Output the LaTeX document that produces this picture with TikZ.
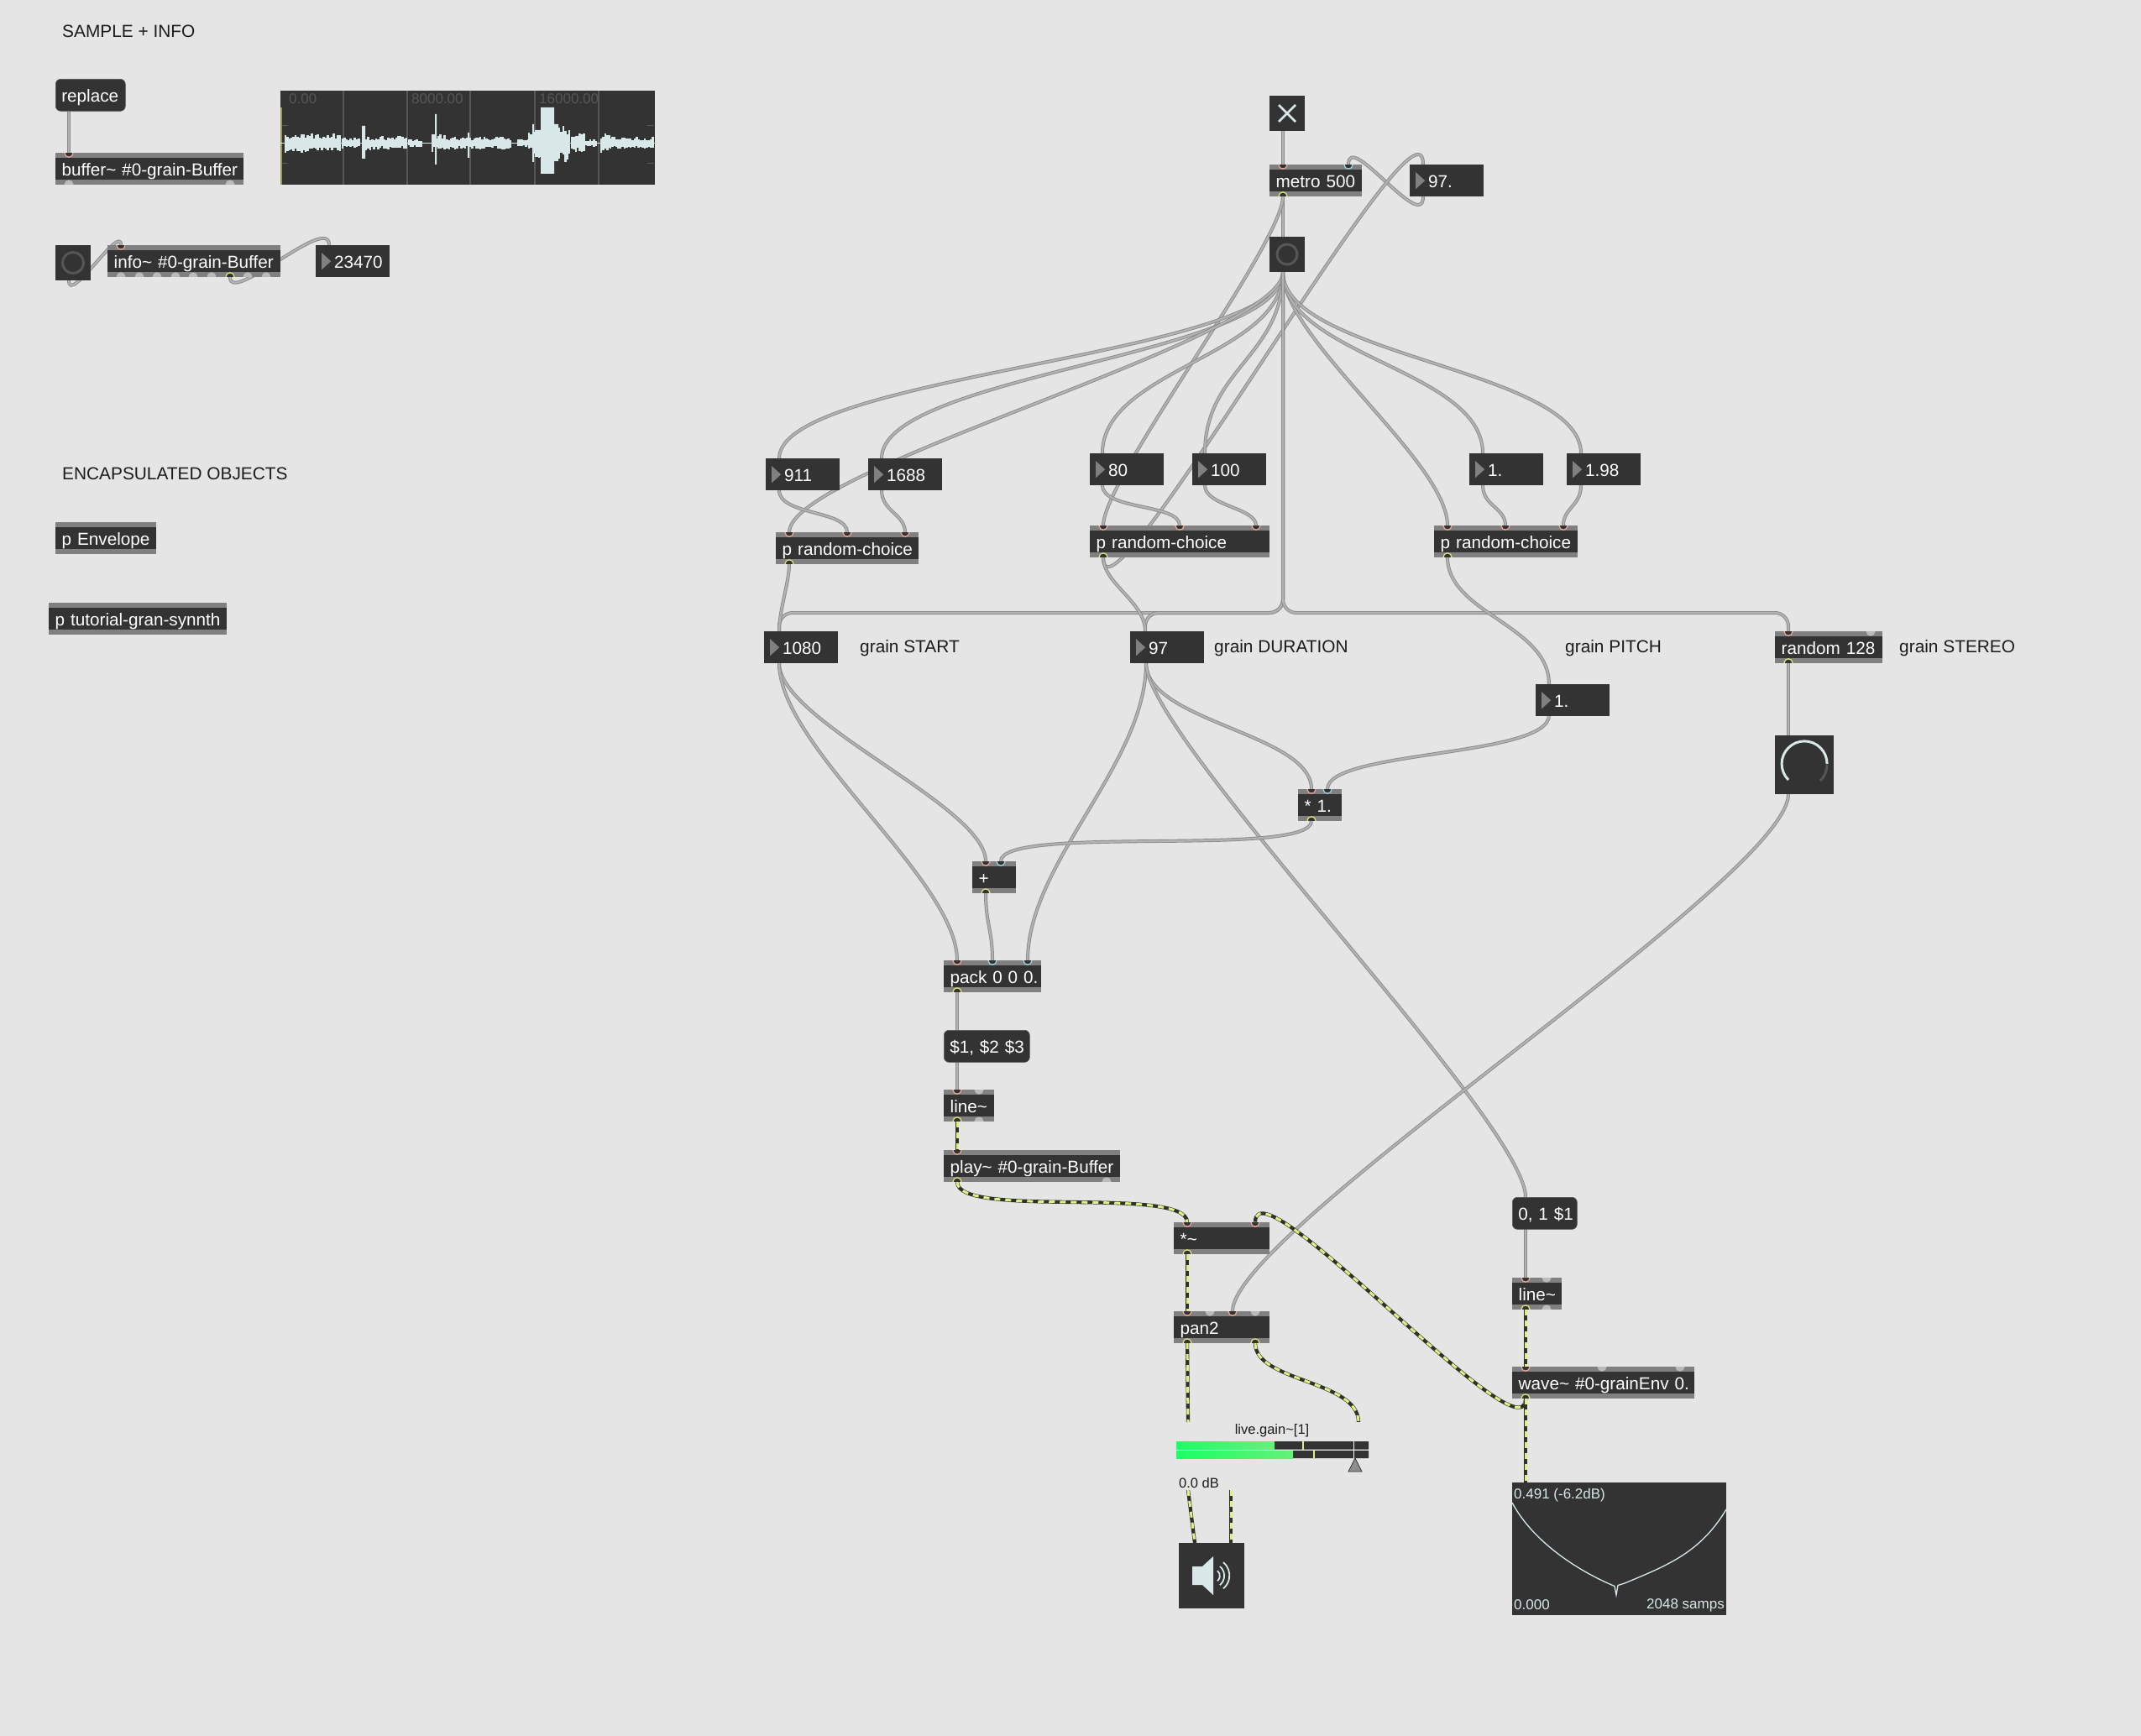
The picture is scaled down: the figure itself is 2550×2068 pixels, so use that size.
\documentclass[tikz,border=0pt]{standalone}
\usepackage{fontspec}
\setmainfont{Liberation Sans}
\pgfdeclarelayer{cords}
\pgfsetlayers{cords,main}
\definecolor{patchBg}{HTML}{E5E5E5}
\definecolor{objDark}{HTML}{333333}
\definecolor{barGrey}{HTML}{808080}
\definecolor{cordEdge}{HTML}{8A8A8A}
\definecolor{cordCore}{HTML}{B2B2B2}
\definecolor{sigDark}{HTML}{2E3326}
\definecolor{sigLime}{HTML}{DCF088}
\definecolor{inPink}{HTML}{F0A898}
\definecolor{inBlue}{HTML}{A0D8E8}
\definecolor{outYellow}{HTML}{E4E880}
\definecolor{idleGrey}{HTML}{BBBBBB}
\definecolor{iceWhite}{HTML}{D8E8E8}
\definecolor{dimText}{HTML}{565656}
\definecolor{inkText}{HTML}{1C1C1C}
\definecolor{markOlive}{HTML}{9A9A55}
\definecolor{meterLow}{HTML}{19FF66}
\definecolor{meterHigh}{HTML}{66F07A}
\newcommand{\objfont}{\fontsize{20.7}{24}\selectfont}
\newcommand{\smallfont}{\fontsize{17}{20}\selectfont}
\newcommand{\tinyfont}{\fontsize{16.5}{20}\selectfont}
\tikzset{
  obj/.style={anchor=north west,fill=objDark,text=white,font=\objfont,inner sep=0pt,
    text width=#1pt,align=left,minimum height=38pt,text height=18pt,text depth=2pt,
    execute at begin node={\hskip7.5pt},
    path picture={
      \fill[barGrey] (path picture bounding box.north west) rectangle ([yshift=-6pt]path picture bounding box.north east);
      \fill[barGrey] (path picture bounding box.south west) rectangle ([yshift=6pt]path picture bounding box.south east);
    }},
  num/.style={anchor=north west,fill=objDark,text=white,font=\objfont,inner sep=0pt,
    text width=88pt,align=left,minimum height=38pt,text height=18pt,text depth=2pt,
    execute at begin node={\hskip22pt},
    path picture={
      \fill[barGrey] ([xshift=7pt,yshift=-9pt]path picture bounding box.north west)
        -- ([xshift=18pt]path picture bounding box.west)
        -- ([xshift=7pt,yshift=9pt]path picture bounding box.south west) -- cycle;
    }},
  msg/.style={anchor=north west,fill=objDark,draw=dimText,line width=.6pt,rounded corners=6pt,
    text=white,font=\objfont,inner sep=0pt,text width=#1pt,align=left,minimum height=38pt,
    text height=18pt,text depth=2pt,execute at begin node={\hskip7pt}},
  uibox/.style 2 args={anchor=north west,fill=objDark,inner sep=0pt,minimum width=#1pt,minimum height=#2pt},
  comment/.style={anchor=west,text=inkText,font=\fontsize{20.85}{24}\selectfont,inner sep=0pt},
  inlet/.style={rectangle,inner sep=0pt,minimum width=12pt,minimum height=7pt,anchor=north,
    path picture={\draw[draw=#1,fill=objDark,line width=1.2pt] (path picture bounding box.north) circle (5pt);}},
  inlet/.default=inPink,
  outlet/.style={rectangle,inner sep=0pt,minimum width=12pt,minimum height=7pt,anchor=south,
    path picture={\draw[draw=outYellow,fill=objDark,line width=1.2pt] (path picture bounding box.south) circle (5pt);}},
  idlein/.style={rectangle,inner sep=0pt,minimum width=12pt,minimum height=6pt,anchor=north,
    path picture={\fill[idleGrey] (path picture bounding box.north) circle (5.5pt);}},
  idleout/.style={rectangle,inner sep=0pt,minimum width=12pt,minimum height=6pt,anchor=south,
    path picture={\fill[idleGrey] (path picture bounding box.south) circle (5.5pt);}},
  cord/.style={draw=cordEdge,line width=.9pt,double=cordCore,double distance=2.2pt},
  sigcord/.style={draw=sigDark,line width=4.2pt,postaction={draw=sigLime,line width=3pt,dash pattern=on 7pt off 6pt}},
}
\begin{document}
\begin{tikzpicture}[x=1pt,y=-1pt]
  \useasboundingbox (0,0) rectangle (2550,2068);

  % sample + info
  \node[comment] (titleSample) at (74,37) {SAMPLE + INFO};
  \node[msg=83] (replaceMsg) at (66,94) {replace};
  \node[obj=224] (bufferObj) at (66,182) {buffer\textasciitilde{} \#0-grain-Buffer};
  \node[inlet] (bufferIn) at (82,182) {};
  \node[idleout] (bufferIdleA) at (82,220) {};
  \node[idleout] (bufferIdleB) at (274,220) {};
  \coordinate (replaceOut) at (82,133);

  \node[uibox={446}{112}] (waveView) at (334,108) {};
  \fill[markOlive] (334,128) rectangle (336,220);
  \draw[dimText,line width=1.5pt] (409,108) -- (409,220) (485,108) -- (485,220) (560,108) -- (560,220)
    (637,108) -- (637,220) (713,108) -- (713,220);
  \draw[dimText,line width=1pt] (336,149.5) -- (343,149.5) (336,195) -- (343,195)
    (771,149.5) -- (779,149.5) (771,195) -- (779,195);
  \node[anchor=west,text=dimText,font=\smallfont,inner sep=0pt] (waveLabelA) at (344,118) {0.00};
  \node[anchor=west,text=dimText,font=\smallfont,inner sep=0pt] (waveLabelB) at (490,118) {8000.00};
  \node[anchor=west,text=dimText,font=\smallfont,inner sep=0pt] (waveLabelC) at (642,118) {16000.00};
  \pgfmathsetseed{11}
  \draw[iceWhite,line width=1.4pt] (334,170.5) -- (780,170.5);
  \foreach \xa/\xb/\amp in {340/407/12,408/429/7,436/485/9,487/503/5,515/530/11,530/557/8,
      560/608/8,617/629/5,630/636/14,637/643/18,666/680/25,681/697/12,698/712/5,716/726/12,727/779/8}{
    \pgfmathsetmacro{\xn}{\xa+2.4}
    \foreach \bx in {\xa,\xn,...,\xb}{
      \pgfmathsetmacro{\up}{170.5-\amp*(.4+.6*rnd)}
      \pgfmathsetmacro{\dn}{170.5+\amp*(.4+.6*rnd)}
      \draw[iceWhite,line width=2.6pt] (\bx,\up) -- (\bx,\dn);
    }
  }
  \fill[iceWhite] (644,128) rectangle (660,207) (660,148) rectangle (665,192) (637,155) rectangle (644,187);
  \fill[iceWhite] (431,150) rectangle (435,189) (518,136) rectangle (520,196) (557,158) rectangle (559,188)
    (634,148) rectangle (636,193);

  \node[uibox={42}{42}] (infoBang) at (66,292) {};
  \draw[dimText,line width=3pt] (87,313) circle (12.5pt);
  \coordinate (infoBangOut) at (82,334);
  \node[obj=206] (infoObj) at (128,292) {info\textasciitilde{} \#0-grain-Buffer};
  \node[inlet] (infoIn) at (144,292) {};
  \node[idleout] at (144,330) {};
  \node[idleout] at (166,330) {};
  \node[idleout] at (187,330) {};
  \node[idleout] at (209,330) {};
  \node[idleout] at (230,330) {};
  \node[idleout] at (252,330) {};
  \node[idleout] at (295,330) {};
  \node[idleout] at (317,330) {};
  \node[outlet] (infoOut) at (274,330) {};
  \node[num] (sizeNum) at (376,292) {23470};
  \coordinate (sizeNumIn) at (392,292);

  % encapsulated objects
  \node[comment] (titleEncaps) at (74,564) {ENCAPSULATED OBJECTS};
  \node[obj=120] (envelopeObj) at (66,622) {p Envelope};
  \node[obj=212] (gransynthObj) at (58,718) {p tutorial-gran-synnth};

  % transport
  \node[uibox={42}{42}] (toggle) at (1512,114) {};
  \draw[iceWhite,line width=2.6pt] (1523,125) -- (1543,145) (1543,125) -- (1523,145);
  \coordinate (toggleOut) at (1528,156);
  \node[obj=110] (metro) at (1512,196) {metro 500};
  \node[inlet] (metroIn) at (1528,196) {};
  \node[inlet=inBlue] (metroInB) at (1606,196) {};
  \node[outlet] (metroOut) at (1528,234) {};
  \node[num] (rateNum) at (1679,196) {97.};
  \coordinate (rateNumIn) at (1695,196);
  \coordinate (rateNumOut) at (1695,234);
  \node[uibox={42}{42}] (bang) at (1512,282) {};
  \draw[dimText,line width=3pt] (1533,303) circle (12pt);
  \coordinate (bangIn) at (1528,282);
  \coordinate (bangOut) at (1528,324);

  % number ranges
  \node[num] (startLow) at (912,546) {911};
  \node[num] (startHigh) at (1034,546) {1688};
  \node[num] (durLow) at (1298,540) {80};
  \node[num] (durHigh) at (1420,540) {100};
  \node[num] (pitchLow) at (1750,540) {1.};
  \node[num] (pitchHigh) at (1866,540) {1.98};
  \coordinate (startLowIn) at (928,546);
  \coordinate (startLowOut) at (928,584);
  \coordinate (startHighIn) at (1050,546);
  \coordinate (startHighOut) at (1050,584);
  \coordinate (durLowIn) at (1313,540);
  \coordinate (durLowOut) at (1313,578);
  \coordinate (durHighIn) at (1435,540);
  \coordinate (durHighOut) at (1435,578);
  \coordinate (pitchLowIn) at (1766,540);
  \coordinate (pitchLowOut) at (1766,578);
  \coordinate (pitchHighIn) at (1883,540);
  \coordinate (pitchHighOut) at (1883,578);

  \node[obj=170] (startChoice) at (924,634) {p random-choice};
  \node[inlet] (startChoiceA) at (940,634) {};
  \node[inlet] (startChoiceB) at (1009,634) {};
  \node[inlet] (startChoiceC) at (1078,634) {};
  \node[outlet] (startChoiceOut) at (940,672) {};
  \node[obj=214] (durChoice) at (1298,626) {p random-choice};
  \node[inlet] (durChoiceA) at (1314,626) {};
  \node[inlet] (durChoiceB) at (1405,626) {};
  \node[inlet] (durChoiceC) at (1496,626) {};
  \node[outlet] (durChoiceOut) at (1314,664) {};
  \node[obj=171] (pitchChoice) at (1708,626) {p random-choice};
  \node[inlet] (pitchChoiceA) at (1724,626) {};
  \node[inlet] (pitchChoiceB) at (1793,626) {};
  \node[inlet] (pitchChoiceC) at (1862,626) {};
  \node[outlet] (pitchChoiceOut) at (1724,664) {};

  % grain parameters
  \node[num] (startNum) at (910,752) {1080};
  \node[comment] (labelStart) at (1024,772) {grain START};
  \node[num] (durNum) at (1346,752) {97};
  \node[comment] (labelDur) at (1446,772) {grain DURATION};
  \node[comment] (labelPitch) at (1864,772) {grain PITCH};
  \node[obj=128] (randomObj) at (2114,752) {random 128};
  \node[comment] (labelStereo) at (2262,772) {grain STEREO};
  \node[inlet] (randomIn) at (2130,752) {};
  \node[idlein] at (2228,752) {};
  \node[outlet] (randomOut) at (2130,790) {};
  \coordinate (startNumIn) at (928,752);
  \coordinate (startNumOut) at (928,790);
  \coordinate (durNumIn) at (1364,752);
  \coordinate (durNumOut) at (1365,790);
  \node[num] (pitchNum) at (1829,815) {1.};
  \coordinate (pitchNumIn) at (1845,815);
  \coordinate (pitchNumOut) at (1845,852);

  \node[uibox={70}{70}] (panDial) at (2114,876) {};
  \draw[iceWhite,line width=3pt] (2130,929) arc (135:360:27);
  \draw[dimText,line width=3pt] (2176,911) arc (0:45:27);
  \coordinate (panDialIn) at (2130,876);
  \coordinate (panDialOut) at (2130,946);

  \node[obj=52] (timesObj) at (1546,940) {* 1.};
  \node[inlet] (timesInA) at (1562,940) {};
  \node[inlet=inBlue] (timesInB) at (1581,940) {};
  \node[outlet] (timesOut) at (1562,978) {};
  \node[obj=52] (plusObj) at (1158,1026) {+};
  \node[inlet] (plusInA) at (1174,1026) {};
  \node[inlet=inBlue] (plusInB) at (1192,1026) {};
  \node[outlet] (plusOut) at (1174,1064) {};
  \node[obj=116] (packObj) at (1124,1144) {pack 0 0 0.};
  \node[inlet] (packInA) at (1140,1144) {};
  \node[inlet=inBlue] (packInB) at (1182,1144) {};
  \node[inlet=inBlue] (packInC) at (1224,1144) {};
  \node[outlet] (packOut) at (1140,1182) {};
  \node[msg=102] (rampMsg) at (1124,1227) {\$1, \$2 \$3};
  \coordinate (rampMsgIn) at (1140,1227);
  \coordinate (rampMsgOut) at (1140,1264);
  \node[obj=60] (lineObj) at (1124,1298) {line\textasciitilde};
  \node[inlet] (lineIn) at (1140,1298) {};
  \node[idlein] at (1166,1298) {};
  \node[idleout] at (1166,1336) {};
  \node[outlet] (lineOut) at (1140,1336) {};
  \node[obj=210] (playObj) at (1124,1370) {play\textasciitilde{} \#0-grain-Buffer};
  \node[inlet] (playIn) at (1140,1370) {};
  \node[idleout] at (1318,1408) {};
  \node[outlet] (playOut) at (1140,1408) {};

  % signal chain
  \node[obj=114] (gainObj) at (1398,1456) {*\textasciitilde};
  \node[inlet] (gainInA) at (1414,1456) {};
  \node[inlet] (gainInB) at (1495,1456) {};
  \node[outlet] (gainOut) at (1414,1494) {};
  \node[obj=114] (panObj) at (1398,1562) {pan2};
  \node[inlet] (panInA) at (1414,1562) {};
  \node[idlein] at (1441,1562) {};
  \node[inlet] (panInB) at (1468,1562) {};
  \node[idlein] at (1495,1562) {};
  \node[outlet] (panOutA) at (1414,1600) {};
  \node[outlet] (panOutB) at (1495,1600) {};

  \node[msg=77] (envMsg) at (1801,1426) {0, 1 \$1};
  \coordinate (envMsgIn) at (1817,1426);
  \coordinate (envMsgOut) at (1817,1464);
  \node[obj=59] (envLine) at (1801,1522) {line\textasciitilde};
  \node[inlet] (envLineIn) at (1817,1522) {};
  \node[idlein] at (1842,1522) {};
  \node[idleout] at (1842,1560) {};
  \node[outlet] (envLineOut) at (1817,1560) {};
  \node[obj=217] (waveObj) at (1801,1628) {wave\textasciitilde{} \#0-grainEnv 0.};
  \node[inlet] (waveIn) at (1817,1628) {};
  \node[idlein] at (1908,1628) {};
  \node[idlein] at (2001,1628) {};
  \node[outlet] (waveOut) at (1817,1666) {};

  % live.gain
  \node[anchor=north west,fill=patchBg,inner sep=0pt,minimum width=229pt,minimum height=81pt] (liveGain) at (1401,1694) {};
  \coordinate (liveGainInA) at (1415,1694);
  \coordinate (liveGainInB) at (1618,1694);
  \coordinate (liveGainOutA) at (1415,1775);
  \coordinate (liveGainOutB) at (1466,1775);
  \node[text=inkText,font=\tinyfont,inner sep=0pt] (liveGainName) at (1515,1704) {live.gain\textasciitilde[1]};
  \node[anchor=west,text=inkText,font=\tinyfont,inner sep=0pt] (liveGainValue) at (1404,1767) {0.0 dB};
  \fill[objDark] (1401,1717) rectangle (1630,1726.5) (1401,1728) rectangle (1630,1737);
  \shade[left color=meterLow,right color=meterHigh] (1401,1717) rectangle (1518,1726.5);
  \shade[left color=meterLow,right color=meterHigh] (1401,1728) rectangle (1540,1737);
  \draw[sigLime,line width=1.5pt] (1552,1717) -- (1552,1726.5) (1565,1728) -- (1565,1737);
  \draw[white,line width=1.5pt] (1612.5,1717) -- (1612.5,1737);
  \filldraw[fill=barGrey!90!white,draw=objDark,line width=.8pt] (1614,1737) -- (1622,1753) -- (1606,1753) -- cycle;

  % speaker
  \node[uibox={78}{78}] (speaker) at (1404,1838) {};
  \coordinate (speakerInA) at (1423,1838);
  \coordinate (speakerInB) at (1466,1838);
  \fill[iceWhite] (1420,1866) -- (1432,1866) -- (1445,1854) -- (1445,1900) -- (1432,1888) -- (1420,1888) -- cycle;
  \draw[iceWhite,line width=1.8pt] (1450,1871) arc (-50:50:8);
  \draw[iceWhite,line width=1.8pt] (1453,1866) arc (-50:50:14.5);
  \draw[iceWhite,line width=1.8pt] (1457,1861) arc (-50:50:20.5);

  % envelope view
  \node[uibox={255}{158}] (envView) at (1801,1766) {};
  \coordinate (envViewIn) at (1817,1766);
  \draw[iceWhite,line width=1.3pt] (1801,1790) .. controls (1825,1835) and (1875,1868) .. (1915,1886)
    -- (1923,1889.5) -- (1925,1900) -- (1927,1888.5) -- (1935,1886)
    .. controls (1985,1865) and (2025,1850) .. (2056,1798);
  \node[anchor=west,text=iceWhite,font=\smallfont,inner sep=0pt] (envPeak) at (1803,1781) {0.491 (-6.2dB)};
  \node[anchor=west,text=iceWhite,font=\smallfont,inner sep=0pt] (envFloor) at (1803,1912) {0.000};
  \node[anchor=east,text=iceWhite,font=\smallfont,inner sep=0pt] (envSamps) at (2054,1912) {2048 samps};

  \begin{pgfonlayer}{cords}
    \fill[patchBg] (0,0) rectangle (2550,2068);
    \draw[cord] (replaceOut) -- (bufferIn);
    \draw[cord] (infoBangOut) .. controls +(0,30) and +(0,-30) .. (infoIn);
    \draw[cord] (infoOut) .. controls +(0,38) and +(0,-38) .. (sizeNumIn);
    \draw[cord] (toggleOut) -- (metroIn);
    \draw[cord] (metroOut) -- (bangIn);
    \draw[cord] (rateNumOut) .. controls +(0,45) and +(0,-45) .. (metroInB);
    \draw[cord] (metroOut) .. controls +(0,60) and +(0,-60) .. (durChoiceA);
    \draw[cord] (durChoiceOut) .. controls +(0,110) and +(0,-110) .. (rateNumIn);
    \draw[cord] (bangOut) .. controls +(0,100) and +(0,-100) .. (startLowIn);
    \draw[cord] (bangOut) .. controls +(0,100) and +(0,-100) .. (startHighIn);
    \draw[cord] (bangOut) .. controls +(0,80) and +(0,-80) .. (startChoiceA);
    \draw[cord] (bangOut) .. controls +(0,100) and +(0,-100) .. (durLowIn);
    \draw[cord] (bangOut) .. controls +(0,100) and +(0,-100) .. (durHighIn);
    \draw[cord] (bangOut) .. controls +(0,80) and +(0,-80) .. (pitchChoiceA);
    \draw[cord] (bangOut) .. controls +(0,100) and +(0,-100) .. (pitchLowIn);
    \draw[cord] (bangOut) .. controls +(0,100) and +(0,-100) .. (pitchHighIn);
    \draw[cord,rounded corners=16pt] (bangOut) -- (bangOut |- 0,730) -- (startNumIn |- 0,730) -- (startNumIn);
    \draw[cord,rounded corners=16pt] (bangOut) -- (bangOut |- 0,730) -- (durNumIn |- 0,730) -- (durNumIn);
    \draw[cord,rounded corners=16pt] (bangOut) -- (bangOut |- 0,730) -- (randomIn |- 0,730) -- (randomIn);
    \draw[cord] (startLowOut) .. controls +(0,30) and +(0,-30) .. (startChoiceB);
    \draw[cord] (startHighOut) .. controls +(0,25) and +(0,-25) .. (startChoiceC);
    \draw[cord] (durLowOut) .. controls +(0,30) and +(0,-30) .. (durChoiceB);
    \draw[cord] (durHighOut) .. controls +(0,25) and +(0,-25) .. (durChoiceC);
    \draw[cord] (pitchLowOut) .. controls +(0,25) and +(0,-25) .. (pitchChoiceB);
    \draw[cord] (pitchHighOut) .. controls +(0,25) and +(0,-25) .. (pitchChoiceC);
    \draw[cord] (startChoiceOut) .. controls +(0,25) and +(0,-25) .. (startNumIn);
    \draw[cord] (durChoiceOut) .. controls +(0,35) and +(0,-35) .. (durNumIn);
    \draw[cord] (pitchChoiceOut) .. controls +(0,70) and +(0,-70) .. (pitchNumIn);
    \draw[cord] (startNumOut) .. controls +(0,70) and +(0,-70) .. (plusInA);
    \draw[cord] (startNumOut) .. controls +(0,100) and +(0,-100) .. (packInA);
    \draw[cord] (durNumOut) .. controls +(0,70) and +(0,-70) .. (timesInA);
    \draw[cord] (durNumOut) .. controls +(0,120) and +(0,-120) .. (packInC);
    \draw[cord] (durNumOut) .. controls +(0,90) and +(0,-90) .. (envMsgIn);
    \draw[cord] (pitchNumOut) .. controls +(0,50) and +(0,-50) .. (timesInB);
    \draw[cord] (timesOut) .. controls +(0,48) and +(0,-48) .. (plusInB);
    \draw[cord] (plusOut) .. controls +(0,40) and +(0,-40) .. (packInB);
    \draw[cord] (packOut) -- (rampMsgIn);
    \draw[cord] (rampMsgOut) -- (lineIn);
    \draw[cord] (randomOut) -- (panDialIn);
    \draw[cord] (panDialOut) .. controls +(0,100) and +(0,-100) .. (panInB);
    \draw[cord] (envMsgOut) -- (envLineIn);
    \draw[sigcord] (lineOut) -- (playIn);
    \draw[sigcord] (playOut) .. controls +(0,48) and +(0,-48) .. (gainInA);
    \draw[sigcord] (waveOut) .. controls +(0,80) and +(0,-80) .. (gainInB);
    \draw[sigcord] (gainOut) -- (panInA);
    \draw[sigcord] (panOutA) -- (liveGainInA);
    \draw[sigcord] (panOutB) .. controls +(0,50) and +(0,-50) .. (liveGainInB);
    \draw[sigcord] (liveGainOutA) -- (speakerInA);
    \draw[sigcord] (liveGainOutB) -- (speakerInB);
    \draw[sigcord] (envLineOut) -- (waveIn);
    \draw[sigcord] (waveOut) -- (envViewIn);
  \end{pgfonlayer}
\end{tikzpicture}
\end{document}
